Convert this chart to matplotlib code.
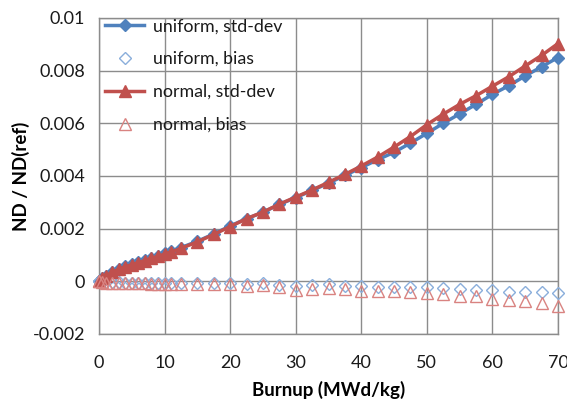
import matplotlib
matplotlib.use("Agg")
import matplotlib.pyplot as plt
import numpy as np

burnup = [0, 0.5, 1, 2, 3, 4, 5, 6, 7, 8, 9, 10, 11, 12.5, 15, 17.5, 20, 22.5, 25,
          27.5, 30, 32.5, 35, 37.5, 40, 42.5, 45, 47.5, 50, 52.5, 55, 57.5, 60,
          62.5, 65, 67.5, 70]

uniform_std = [0, 0.00012, 0.00022, 0.00036, 0.00047, 0.00057, 0.00066, 0.00074,
               0.00082, 0.00090, 0.00098, 0.00106, 0.00114, 0.00128, 0.00152,
               0.00180, 0.00210, 0.00238, 0.00262, 0.00292, 0.00318, 0.00345,
               0.00373, 0.00402, 0.00432, 0.00462, 0.00490, 0.00525, 0.00562,
               0.00600, 0.00636, 0.00672, 0.00710, 0.00743, 0.00780, 0.00815,
               0.00850]

uniform_bias = [0, -0.00002, -0.00003, -0.00004, -0.00004, -0.00005, -0.00005,
                -0.00005, -0.00005, -0.00006, -0.00006, -0.00006, -0.00006,
                -0.00006, -0.00007, -0.00008, -0.00008, -0.00009, -0.00006,
                -0.00013, -0.00016, -0.00013, -0.00009, -0.00016, -0.00019,
                -0.00022, -0.00022, -0.00022, -0.00022, -0.00025, -0.00029,
                -0.00032, -0.00034, -0.00040, -0.00040, -0.00040, -0.00044]

normal_std = [0, 0.00011, 0.00020, 0.00034, 0.00045, 0.00055, 0.00063, 0.00071,
              0.00079, 0.00087, 0.00095, 0.00103, 0.00111, 0.00125, 0.00150,
              0.00178, 0.00208, 0.00238, 0.00263, 0.00293, 0.00320, 0.00347,
              0.00376, 0.00406, 0.00438, 0.00472, 0.00510, 0.00550, 0.00595,
              0.00635, 0.00672, 0.00705, 0.00741, 0.00777, 0.00818, 0.00858,
              0.00903]

normal_bias = [0, -0.00003, -0.00005, -0.00006, -0.00007, -0.00007, -0.00008,
               -0.00008, -0.00008, -0.00009, -0.00009, -0.00010, -0.00010,
               -0.00010, -0.00011, -0.00012, -0.00012, -0.00016, -0.00013,
               -0.00022, -0.00032, -0.00029, -0.00025, -0.00029, -0.00038,
               -0.00038, -0.00038, -0.00040, -0.00044, -0.00048, -0.00054,
               -0.00057, -0.00067, -0.00072, -0.00076, -0.00082, -0.00092]

x_ticks = [0, 10, 20, 30, 40, 50, 60, 70]
y_ticks = [-0.002, 0, 0.002, 0.004, 0.006, 0.008, 0.01]
y_tick_labels = ["-0.002", "0", "0.002", "0.004", "0.006", "0.008", "0.01"]

blue = "#4F81BD"
red = "#C0504D"

plt.rcParams['font.family'] = ['Lato', 'DejaVu Sans']

fig = plt.figure(figsize=(5.67, 4.05), dpi=100)
ax = fig.add_axes([99/567, 1-334/405, (558-99)/567, (334-18)/405])

ax.plot(burnup, uniform_std, color=blue, lw=2.5, marker='D', ms=6.5,
        label="uniform, std-dev", zorder=3, clip_on=False)
ax.plot(burnup, uniform_bias, ls='none', marker='D', ms=6.5, mfc='none',
        mec="#8AAEDB", mew=1.0, label="uniform, bias", zorder=3, clip_on=False)
ax.plot(burnup, normal_std, color=red, lw=2.5, marker='^', ms=9,
        label="normal, std-dev", zorder=3, clip_on=False)
ax.plot(burnup, normal_bias, ls='none', marker='^', ms=8.5, mfc='none',
        mec="#D98381", mew=1.0, label="normal, bias", zorder=3, clip_on=False)

ax.set_xlim(0, 70)
ax.set_ylim(-0.002, 0.01)
ax.set_xticks(x_ticks)
ax.set_xticklabels([str(t) for t in x_ticks])
ax.set_yticks(y_ticks)
ax.set_yticklabels(y_tick_labels)
ax.grid(True, color="#8C8C8C", lw=1.0)
ax.set_axisbelow(True)
for s in ax.spines.values():
    s.set_color("#8C8C8C")
    s.set_linewidth(1.0)
ax.tick_params(axis='y', length=0, labelsize=13, pad=10, colors="#1a1a1a")
ax.tick_params(axis='x', length=0, labelsize=13, pad=15, colors="#1a1a1a")

ax.set_xlabel("Burnup (MWd/kg)", fontsize=13.5, fontweight='bold', labelpad=7)
ax.set_ylabel("ND / ND(ref)", fontsize=13.5, fontweight='bold', labelpad=2)

leg = ax.legend(loc='upper left', frameon=False, fontsize=12.8,
                bbox_to_anchor=(-0.002, 1.022), borderaxespad=0.0,
                handlelength=2.2, labelspacing=0.95, handletextpad=0.5)
for t in leg.get_texts():
    t.set_color("#1a1a1a")

fig.savefig("out.png", dpi=100)
